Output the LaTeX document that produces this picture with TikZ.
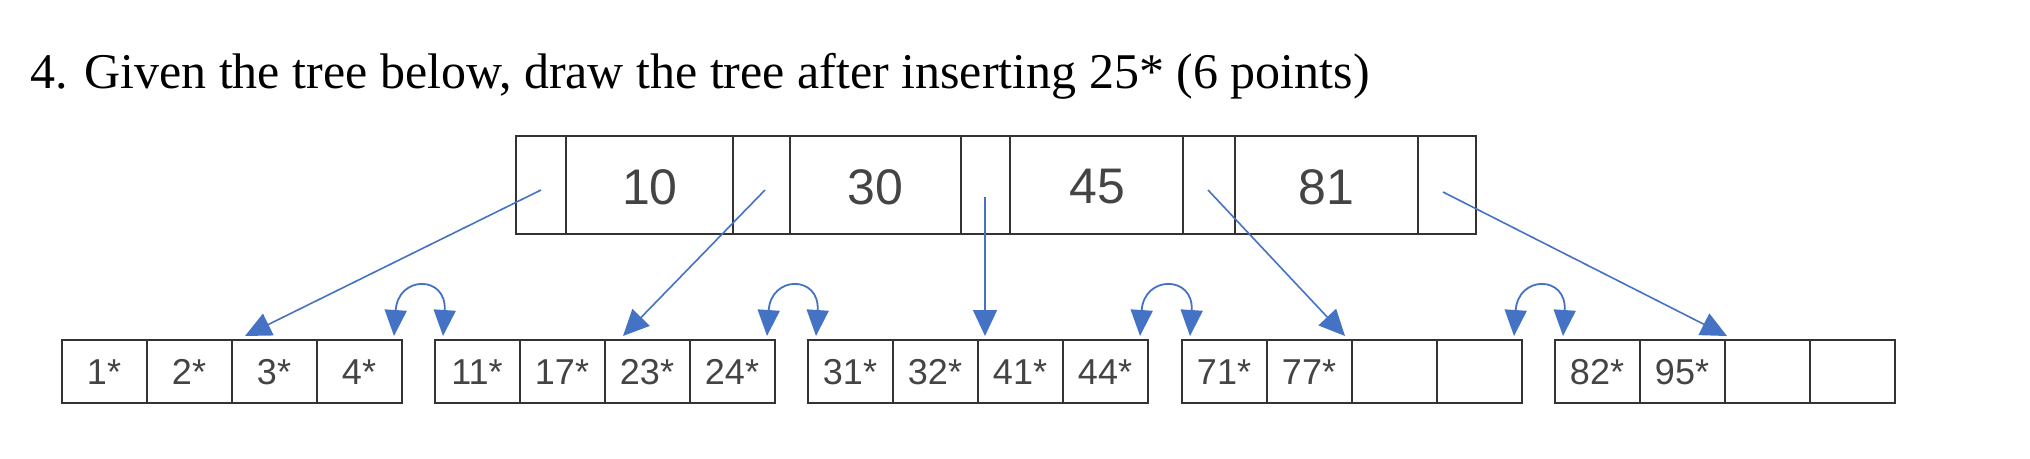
\documentclass[tikz,border=0pt]{standalone}
\usepackage{fontspec}
\setmainfont{Liberation Serif}
\newfontfamily\arialf{Liberation Sans}
\usetikzlibrary{arrows.meta}
\definecolor{ablue}{HTML}{4472C4}
\definecolor{tgray}{HTML}{444444}
\begin{document}
\begin{tikzpicture}[x=1pt,y=-1pt,
  cellbox/.style={draw=black!80,line width=2pt},
  rtext/.style={font=\arialf\fontsize{50}{50}\selectfont,text=tgray},
  ltext/.style={font=\arialf\fontsize{36}{36}\selectfont,text=tgray},
  ptr/.style={draw=ablue,line width=1.6pt,-{Triangle[length=26pt,width=24pt]}},
  sib/.style={draw=ablue,line width=1.8pt,{Triangle[length=26pt,width=22pt]}-{Triangle[length=26pt,width=22pt]}}]
\useasboundingbox (0,0) rectangle (2030,458);
\node[anchor=base west,font=\fontsize{50}{50}\selectfont,inner sep=0] (title) at (30,88) {4. Given the tree below, draw the tree after inserting 25* (6 points)};
% root
\draw[cellbox] (516,136) rectangle (1476,234);
\foreach \x in {566,733,790,961,1010,1183,1235,1418}{\draw[cellbox] (\x,136) -- (\x,234);}
\node[rtext] (k10) at (650,187) {10};
\node[rtext] (k30) at (875,187) {30};
\node[rtext] (k45) at (1097,187) {45};
\node[rtext] (k81) at (1326,187) {81};
\coordinate (p0) at (541,190);
\coordinate (p1) at (765,190);
\coordinate (p2) at (985,197);
\coordinate (p3) at (1208,190);
\coordinate (p4) at (1443,192);
% leaves
\newcommand{\leaf}[6]{%
  \draw[cellbox] (#1,340) rectangle ({#1+340},403);
  \foreach \i in {1,2,3}{\draw[cellbox] ({#1+85*\i},340) -- ({#1+85*\i},403);}
  \node[ltext] at ({#1+42},372) {#2};
  \node[ltext] at ({#1+127},372) {#3};
  \node[ltext] at ({#1+212},372) {#4};
  \node[ltext] at ({#1+297},372) {#5};
  \coordinate (#6a) at ({#1+170},338);
  \coordinate (#6l) at ({#1+8},336);
  \coordinate (#6r) at ({#1+332},336);
}
\leaf{62}{1*}{2*}{3*}{4*}{L1}
\leaf{435}{11*}{17*}{23*}{24*}{L2}
\leaf{808}{31*}{32*}{41*}{44*}{L3}
\leaf{1182}{71*}{77*}{}{}{L4}
\leaf{1555}{82*}{95*}{}{}{L5}
\coordinate (t1) at (245,336);
\coordinate (t2) at (623,336);
\coordinate (t3) at (985,336);
\coordinate (t4) at (1345,336);
\coordinate (t5) at (1727,336);
\draw[ptr] (p0) -- (t1);
\draw[ptr] (p1) -- (t2);
\draw[ptr] (p2) -- (t3);
\draw[ptr] (p3) -- (t4);
\draw[ptr] (p4) -- (t5);
\draw[sib] (L1r) .. controls (398,275) and (447,275) .. (L2l);
\draw[sib] (L2r) .. controls (771,275) and (820,275) .. (L3l);
\draw[sib] (L3r) .. controls (1144,275) and (1194,275) .. (L4l);
\draw[sib] (L4r) .. controls (1518,275) and (1567,275) .. (L5l);
\end{tikzpicture}
\end{document}
